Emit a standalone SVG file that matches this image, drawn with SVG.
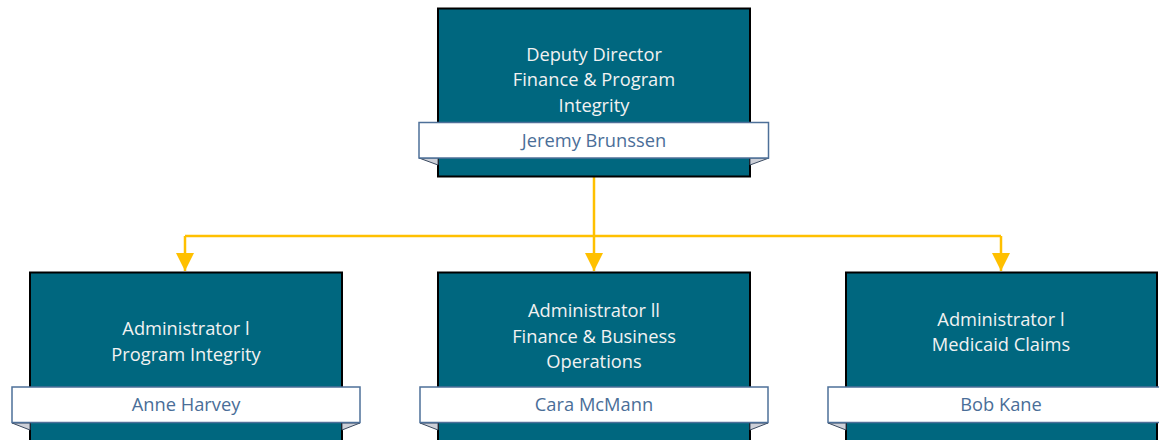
<svg xmlns="http://www.w3.org/2000/svg" width="1159" height="440" viewBox="0 0 1159 440">
<style>
.box{fill:#00677F;stroke:#000;stroke-width:2}
.banner{fill:#fff;stroke:#4E7099;stroke-width:1.5}
.fold{fill:#CDD0D8;stroke:#3A4A60;stroke-width:1}
.t{font-family:"Open Sans","Noto Sans",sans-serif;font-size:18.3px;fill:#F2F2F2;text-anchor:middle}
.n{font-family:"Open Sans","Noto Sans",sans-serif;font-size:18.3px;fill:#4A6E98;text-anchor:middle}
.c{fill:none;stroke:#FFC000;stroke-width:2.5}
</style>
<defs>
<marker id="arr" markerUnits="userSpaceOnUse" markerWidth="18" markerHeight="19" refX="18" refY="9" orient="auto" viewBox="0 0 18 18">
<path d="M0,0 L18,9 L0,18 Z" fill="#FFC000"/>
</marker>
</defs>
<g id="connectors">
<path class="c" d="M594,177 V236"/>
<path class="c" d="M185,236 H1001"/>
<path class="c" d="M185,236 V271" marker-end="url(#arr)"/>
<path class="c" d="M594,236 V271" marker-end="url(#arr)"/>
<path class="c" d="M1001,236 V271" marker-end="url(#arr)"/>
</g>
<g id="node-deputy">
<rect class="box" x="438" y="8.5" width="312" height="168"/>
<polygon class="fold" points="419,158 438,158 438,165"/>
<polygon class="fold" points="769,158 750,158 750,165"/>
<rect class="banner" x="419" y="122.5" width="349.5" height="35.5"/>
<text class="t" x="594" y="60.5">Deputy Director</text>
<text class="t" x="594" y="86">Finance &amp; Program</text>
<text class="t" x="594" y="111.5">Integrity</text>
<text class="n" x="594" y="146.5">Jeremy Brunssen</text>
</g>
<g id="node-pi">
<rect class="box" x="30" y="272.5" width="312" height="180"/>
<polygon class="fold" points="12,423 30,423 30,430"/>
<polygon class="fold" points="360,423 342,423 342,430"/>
<rect class="banner" x="12" y="387" width="348" height="35.5"/>
<text class="t" x="186" y="335">Administrator l</text>
<text class="t" x="186" y="361">Program Integrity</text>
<text class="n" x="186" y="411">Anne Harvey</text>
</g>
<g id="node-fbo">
<rect class="box" x="438" y="272.5" width="312" height="180"/>
<polygon class="fold" points="420,423 438,423 438,430"/>
<polygon class="fold" points="768,423 750,423 750,430"/>
<rect class="banner" x="420" y="387" width="348" height="35.5"/>
<text class="t" x="594" y="317">Administrator ll</text>
<text class="t" x="594" y="342.5">Finance &amp; Business</text>
<text class="t" x="594" y="367.5">Operations</text>
<text class="n" x="594" y="411">Cara McMann</text>
</g>
<g id="node-mc">
<rect class="box" x="846" y="272.5" width="311" height="180"/>
<polygon class="fold" points="828,423 846,423 846,430"/>
<rect class="banner" x="828" y="387" width="348" height="35.5"/>
<text class="t" x="1001" y="325.5">Administrator l</text>
<text class="t" x="1001" y="351">Medicaid Claims</text>
<text class="n" x="1001" y="411">Bob Kane</text>
</g>
</svg>
